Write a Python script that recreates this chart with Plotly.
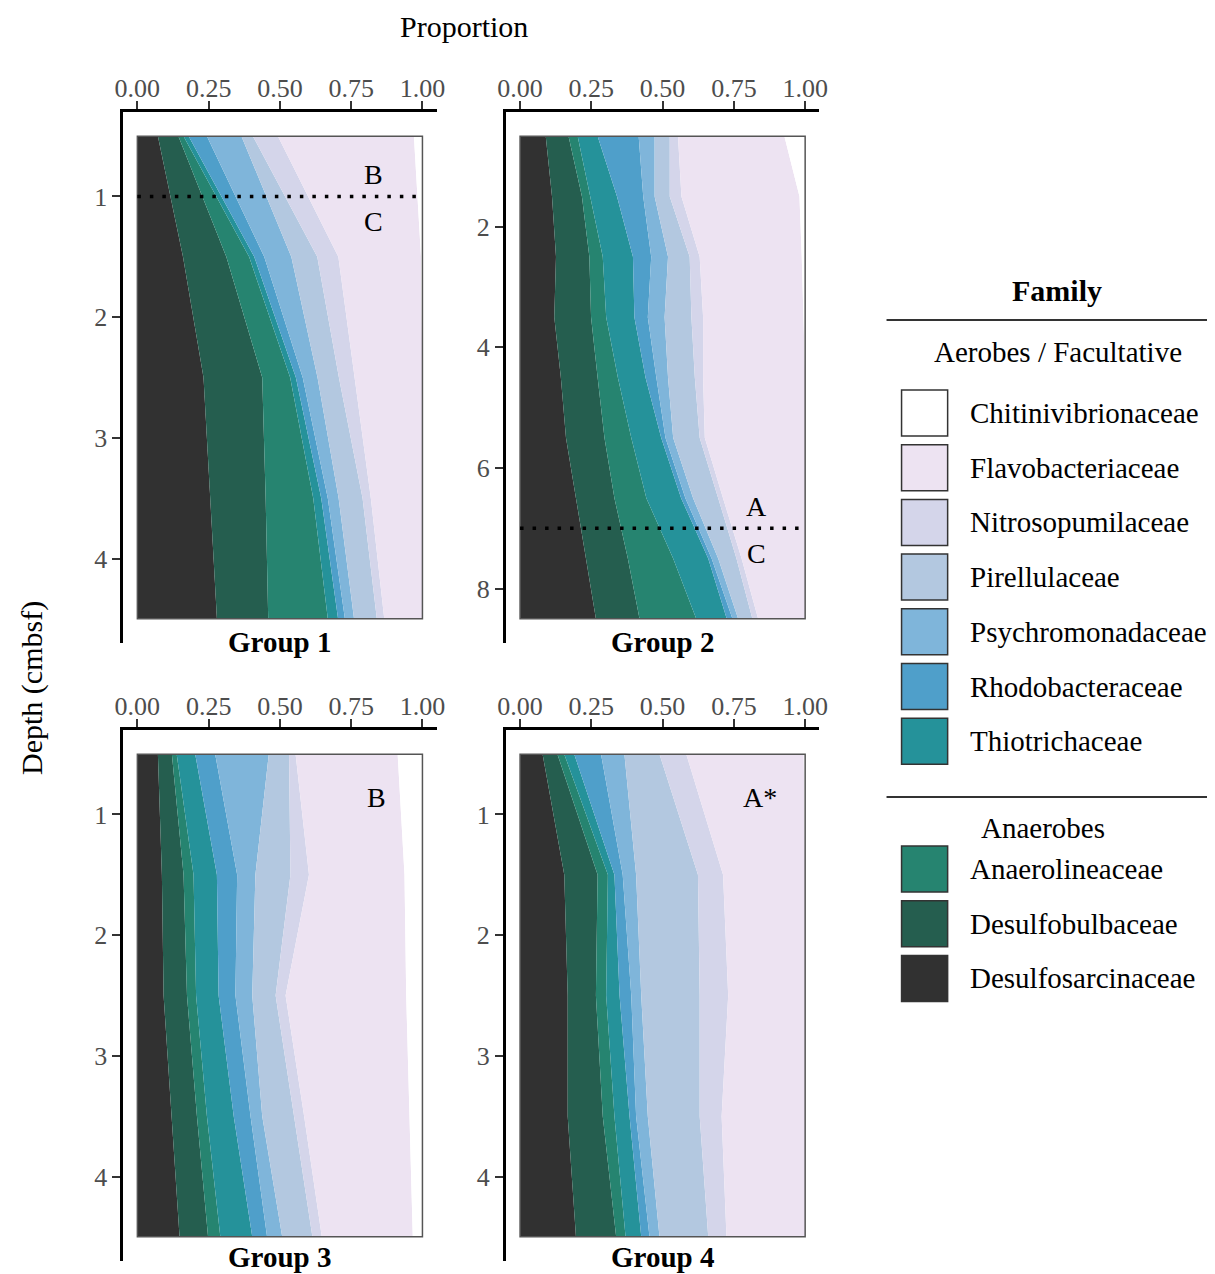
import plotly.graph_objects as go

W, H = 1215, 1274
FONT = "Liberation Serif"

# ---------------- data ----------------
families = ["Desulfosarcinaceae", "Desulfobulbaceae", "Anaerolineaceae", "Thiotrichaceae",
            "Rhodobacteraceae", "Psychromonadaceae", "Pirellulaceae", "Nitrosopumilaceae",
            "Flavobacteriaceae", "Chitinivibrionaceae"]
family_colors = ["#313131", "#255e4f", "#268470", "#25929a", "#4f9fca", "#7fb5da",
                 "#b3c8e0", "#d4d5ea", "#ede3f2", "#ffffff"]

aerobe_families = ["Chitinivibrionaceae", "Flavobacteriaceae", "Nitrosopumilaceae", "Pirellulaceae",
                   "Psychromonadaceae", "Rhodobacteraceae", "Thiotrichaceae"]
anaerobe_families = ["Anaerolineaceae", "Desulfobulbaceae", "Desulfosarcinaceae"]

group_names = ["Group 1", "Group 2", "Group 3", "Group 4"]

depth_g1 = [0.5, 1.5, 2.5, 3.5, 4.5]
depth_g2 = [0.5, 1.5, 2.5, 3.5, 4.5, 5.5, 6.5, 7.5, 8.5]
depth_g3 = [0.5, 1.5, 2.5, 3.5, 4.5]
depth_g4 = [0.5, 1.5, 2.5, 3.5, 4.5]

# proportions per family (rows in the order of `families`), per depth (columns)
props_g1 = [
    [0.072, 0.160, 0.232, 0.256, 0.279],
    [0.072, 0.152, 0.206, 0.194, 0.180],
    [0.018, 0.080, 0.098, 0.167, 0.209],
    [0.018, 0.018, 0.020, 0.028, 0.036],
    [0.064, 0.035, 0.024, 0.023, 0.024],
    [0.121, 0.095, 0.052, 0.038, 0.032],
    [0.040, 0.091, 0.075, 0.084, 0.080],
    [0.088, 0.074, 0.055, 0.029, 0.026],
    [0.477, 0.290, 0.238, 0.181, 0.134],
    [0.030, 0.005, 0.000, 0.000, 0.000],
]
props_g2 = [
    [0.090, 0.112, 0.126, 0.120, 0.143, 0.161, 0.196, 0.231, 0.266],
    [0.080, 0.105, 0.117, 0.129, 0.129, 0.135, 0.135, 0.147, 0.153],
    [0.032, 0.028, 0.047, 0.053, 0.071, 0.094, 0.112, 0.159, 0.199],
    [0.070, 0.095, 0.106, 0.099, 0.097, 0.105, 0.122, 0.123, 0.107],
    [0.144, 0.092, 0.064, 0.047, 0.038, 0.015, 0.015, 0.012, 0.020],
    [0.056, 0.040, 0.059, 0.059, 0.041, 0.027, 0.027, 0.023, 0.020],
    [0.053, 0.053, 0.076, 0.094, 0.094, 0.093, 0.088, 0.064, 0.050],
    [0.029, 0.041, 0.035, 0.041, 0.029, 0.018, 0.017, 0.018, 0.020],
    [0.373, 0.414, 0.358, 0.352, 0.358, 0.352, 0.288, 0.223, 0.165],
    [0.073, 0.020, 0.012, 0.006, 0.000, 0.000, 0.000, 0.000, 0.000],
]
props_g3 = [
    [0.072, 0.086, 0.092, 0.121, 0.148],
    [0.049, 0.076, 0.082, 0.088, 0.100],
    [0.017, 0.035, 0.032, 0.035, 0.043],
    [0.065, 0.082, 0.079, 0.094, 0.112],
    [0.070, 0.071, 0.059, 0.059, 0.052],
    [0.188, 0.064, 0.059, 0.041, 0.053],
    [0.071, 0.123, 0.082, 0.111, 0.106],
    [0.023, 0.065, 0.035, 0.036, 0.033],
    [0.358, 0.335, 0.423, 0.369, 0.319],
    [0.087, 0.063, 0.057, 0.046, 0.034],
]
props_g4 = [
    [0.079, 0.155, 0.167, 0.167, 0.196],
    [0.052, 0.117, 0.099, 0.123, 0.141],
    [0.024, 0.036, 0.036, 0.041, 0.033],
    [0.035, 0.023, 0.047, 0.053, 0.055],
    [0.094, 0.029, 0.041, 0.023, 0.029],
    [0.082, 0.047, 0.035, 0.041, 0.035],
    [0.123, 0.217, 0.205, 0.182, 0.171],
    [0.094, 0.088, 0.100, 0.077, 0.064],
    [0.412, 0.288, 0.270, 0.293, 0.276],
    [0.005, 0.000, 0.000, 0.000, 0.000],
]

x_ticks = [0, 0.25, 0.5, 0.75, 1.0]
x_ticktext = ["0.00", "0.25", "0.50", "0.75", "1.00"]
y_ticks_g1 = [1, 2, 3, 4]
y_ticks_g2 = [2, 4, 6, 8]

# zone boundaries: (panel, depth, label above, label below)
zone_lines = [(1, 1.0, "B", "C"), (2, 7.0, "A", "C")]
zone_labels = [(3, "B"), (4, "A*")]

# ---------------- layout helpers ----------------
# the captured picture comes out slightly narrower than the page; compensate
X_OFF, X_SCALE = 9.1, 0.985

def px(x):
    return ((x - X_OFF) / X_SCALE) / W

def py(y):
    return 1 - y / H

panels = [
    dict(depth=depth_g1, props=props_g1, yt=y_ticks_g1, xdom=(124, 437), ydom=(112, 643)),
    dict(depth=depth_g2, props=props_g2, yt=y_ticks_g2, xdom=(506, 819), ydom=(112, 643)),
    dict(depth=depth_g3, props=props_g3, yt=y_ticks_g1, xdom=(124, 437), ydom=(730, 1261)),
    dict(depth=depth_g4, props=props_g4, yt=y_ticks_g1, xdom=(506, 819), ydom=(730, 1261)),
]

fig = go.Figure()
shapes = []
annotations = []
layout = dict(
    width=W, height=H, margin=dict(l=0, r=0, t=0, b=0),
    paper_bgcolor="white", plot_bgcolor="white", showlegend=False,
    font=dict(family=FONT, color="black"),
)

tickfont = dict(family=FONT, size=26, color="#4d4d4d")

for i, p in enumerate(panels, start=1):
    sfx = "" if i == 1 else str(i)
    xa, ya = "x" + sfx, "y" + sfx
    dmin, dmax = min(p["depth"]), max(p["depth"])
    pad = (dmax - dmin) * 0.05
    for fam, col, vals in zip(families, family_colors, p["props"]):
        fig.add_trace(go.Scatter(
            x=vals, y=p["depth"], xaxis=xa, yaxis=ya, name=fam,
            mode="lines", line=dict(width=0, color=col), fillcolor=col,
            stackgroup="g%d" % i, orientation="h", hoverinfo="name+x+y",
        ))
    layout["xaxis" + sfx] = dict(
        domain=[px(p["xdom"][0]), px(p["xdom"][1])], anchor=ya, side="top",
        range=[-0.05, 1.05], tickvals=x_ticks, ticktext=x_ticktext,
        showline=True, linecolor="black", linewidth=2.5, ticks="outside",
        ticklen=8, tickwidth=1.5, tickcolor="#333333", tickfont=tickfont,
        ticklabelstandoff=-6,
        showgrid=False, zeroline=False, fixedrange=True,
    )
    layout["yaxis" + sfx] = dict(
        domain=[py(p["ydom"][1]), py(p["ydom"][0])], anchor=xa,
        range=[dmax + pad, dmin - pad], tickvals=p["yt"],
        showline=True, linecolor="black", linewidth=2.5, ticks="outside",
        ticklen=8, tickwidth=1.5, tickcolor="#333333", tickfont=tickfont,
        showgrid=False, zeroline=False, fixedrange=True,
    )
    # panel frame around the data region
    shapes.append(dict(type="rect", xref=xa, yref=ya, x0=0, x1=1, y0=dmin, y1=dmax,
                       line=dict(color="#555555", width=1.5), layer="above"))
    # group label under the panel
    cx = (p["xdom"][0] + p["xdom"][1]) / 2
    gy = p["ydom"][1] - 1 if i <= 2 else p["ydom"][1] - 4
    annotations.append(dict(xref="paper", yref="paper", x=px(cx), y=py(gy),
                            text="<b>%s</b>" % group_names[i - 1], showarrow=False,
                            xanchor="center", yanchor="middle",
                            font=dict(family=FONT, size=29, color="black")))

for pnl, d, above, below in zone_lines:
    sfx = "" if pnl == 1 else str(pnl)
    xa, ya = "x" + sfx, "y" + sfx
    span = max(panels[pnl - 1]["depth"]) - min(panels[pnl - 1]["depth"])
    shapes.append(dict(type="line", xref=xa, yref=ya, x0=0, x1=1, y0=d, y1=d,
                       line=dict(color="black", width=3.5, dash="3.5px,9px"), layer="above"))
    annotations.append(dict(xref=xa, yref=ya, x=0.83, y=d - span * 0.045, text=above,
                            showarrow=False, xanchor="center", yanchor="middle",
                            font=dict(family=FONT, size=28, color="black")))
    annotations.append(dict(xref=xa, yref=ya, x=0.83, y=d + span * 0.052, text=below,
                            showarrow=False, xanchor="center", yanchor="middle",
                            font=dict(family=FONT, size=28, color="black")))

for pnl, lab in zone_labels:
    sfx = "" if pnl == 1 else str(pnl)
    annotations.append(dict(xref="x" + sfx, yref="y" + sfx, x=0.84, y=0.86, text=lab,
                            showarrow=False, xanchor="center", yanchor="middle",
                            font=dict(family=FONT, size=28, color="black")))

# axis titles
annotations.append(dict(xref="paper", yref="paper", x=px(464), y=py(27), text="Proportion",
                        showarrow=False, xanchor="center", yanchor="middle",
                        font=dict(family=FONT, size=30, color="black")))
annotations.append(dict(xref="paper", yref="paper", x=px(33), y=py(688), text="Depth (cmbsf)",
                        showarrow=False, xanchor="center", yanchor="middle", textangle=-90,
                        font=dict(family=FONT, size=30, color="black")))

# ---------------- legend (drawn) ----------------
col_of = dict(zip(families, family_colors))
annotations.append(dict(xref="paper", yref="paper", x=px(1056), y=py(290), text="<b>Family</b>",
                        showarrow=False, xanchor="center", yanchor="middle",
                        font=dict(family=FONT, size=30, color="black")))
shapes.append(dict(type="line", xref="paper", yref="paper", x0=px(886), x1=1,
                   y0=py(320), y1=py(320), line=dict(color="#333333", width=2)))
annotations.append(dict(xref="paper", yref="paper", x=px(1057), y=py(352),
                        text="Aerobes / Facultative", showarrow=False, xanchor="center",
                        yanchor="middle", font=dict(family=FONT, size=29, color="black")))
step = 54.7
for k, fam in enumerate(aerobe_families):
    top = 390 + k * step
    shapes.append(dict(type="rect", xref="paper", yref="paper", x0=px(901), x1=px(947),
                       y0=py(top + 46), y1=py(top), fillcolor=col_of[fam],
                       line=dict(color="#333333", width=1.5)))
    annotations.append(dict(xref="paper", yref="paper", x=px(967), y=py(top + 23), text=fam,
                            showarrow=False, xanchor="left", yanchor="middle",
                            font=dict(family=FONT, size=29, color="black")))
shapes.append(dict(type="line", xref="paper", yref="paper", x0=px(886), x1=1,
                   y0=py(797), y1=py(797), line=dict(color="#333333", width=2)))
annotations.append(dict(xref="paper", yref="paper", x=px(978), y=py(828), text="Anaerobes",
                        showarrow=False, xanchor="left", yanchor="middle",
                        font=dict(family=FONT, size=29, color="black")))
for k, fam in enumerate(anaerobe_families):
    top = 846 + k * step
    shapes.append(dict(type="rect", xref="paper", yref="paper", x0=px(901), x1=px(947),
                       y0=py(top + 46), y1=py(top), fillcolor=col_of[fam],
                       line=dict(color="#333333", width=1.5)))
    annotations.append(dict(xref="paper", yref="paper", x=px(967), y=py(top + 23), text=fam,
                            showarrow=False, xanchor="left", yanchor="middle",
                            font=dict(family=FONT, size=29, color="black")))

layout["shapes"] = shapes
layout["annotations"] = annotations
fig.update_layout(**layout)
fig.write_html("out.html")
